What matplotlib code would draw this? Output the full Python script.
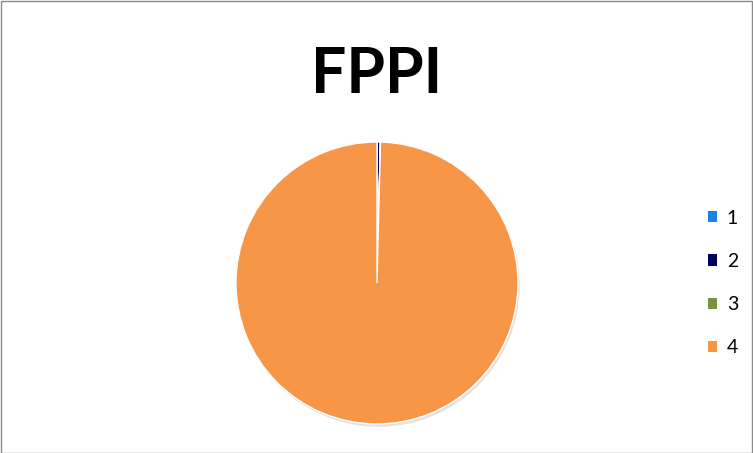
import matplotlib.pyplot as plt
from matplotlib.patches import Rectangle, Circle

labels = ['1', '2', '3', '4']
values = [0.0002, 0.0036, 0.0001, 0.9961]
colors = ['#1F7FE8', '#00005E', '#77933C', '#F79646']

fig = plt.figure(figsize=(7.53, 4.53), dpi=100)

# frame around the whole chart
fig.patches.append(Rectangle((0.5 / 753, 0.5 / 453), 1 - 1.5 / 753, 1 - 1.5 / 453,
                             transform=fig.transFigure, fill=False,
                             edgecolor='#8C8C8C', linewidth=1.0))

fig.text(377 / 753, 1 - 75 / 453, 'FPPI', ha='center', va='center',
         fontsize=45, fontweight='bold', family='Lato')

# pie centre ~ (377, 283) px, radius ~ 141 px
r = 141 * 1.05
ax = fig.add_axes([(377 - r) / 753, (453 - 283 - r) / 453, 2 * r / 753, 2 * r / 453])

# soft shadow
ax.add_patch(Circle((0.012, -0.02), 1.0, facecolor='#E3E3E3', edgecolor='none', zorder=0))

wedges, _ = ax.pie(values, colors=colors, startangle=90, counterclock=False,
                   wedgeprops=dict(edgecolor='white', linewidth=1.0))
for w in wedges:
    w.set_zorder(1)
ax.set_xlim(-1.05, 1.05)
ax.set_ylim(-1.05, 1.05)
ax.set_aspect('equal')
ax.axis('off')

leg = fig.legend(wedges, labels, loc='center left', bbox_to_anchor=(690 / 753, 1 - 283 / 453),
                 frameon=False, handlelength=0.5, handleheight=0.5,
                 handletextpad=0.5, labelspacing=1.35,
                 prop=dict(family='Lato', size=14))
for h in leg.legend_handles:
    h.set_edgecolor('none')

fig.savefig('out.png', dpi=100)
